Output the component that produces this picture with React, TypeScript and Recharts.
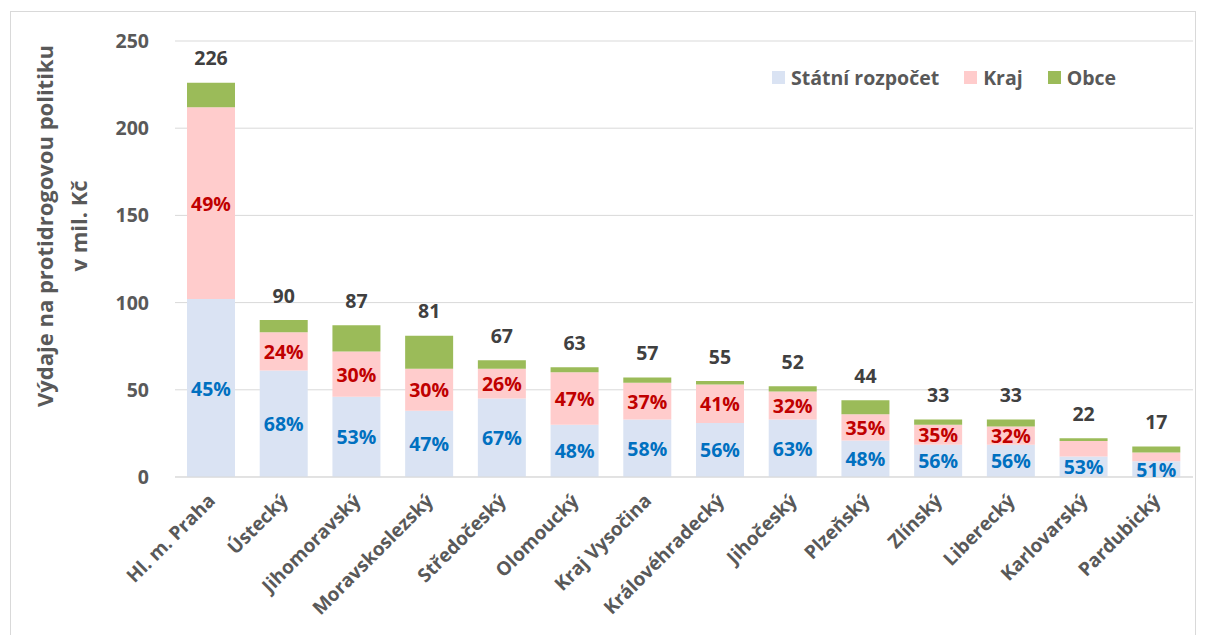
import React from "react";
import { BarChart, Bar, XAxis, YAxis, CartesianGrid, LabelList } from "recharts";

const categories = ["Hl. m. Praha", "Ústecký", "Jihomoravský", "Moravskoslezský", "Středočeský", "Olomoucký", "Kraj Vysočina", "Královéhradecký", "Jihočeský", "Plzeňský", "Zlínský", "Liberecký", "Karlovarský", "Pardubický"];
const stateBudget = [102, 61, 46, 38, 45, 30, 33, 31, 33, 21, 18.5, 18.5, 11.7, 9];
const regionBudget = [110, 22, 26, 24, 17, 30, 21, 22, 16, 15, 11.5, 10.5, 9, 5];
const municipalBudget = [14, 7, 15, 19, 5, 3, 3, 2, 3, 8, 3, 4, 1.5, 3.5];
const totals = [226, 90, 87, 81, 67, 63, 57, 55, 52, 44, 33, 33, 22, 17];
const statePct = [45, 68, 53, 47, 67, 48, 58, 56, 63, 48, 56, 56, 53, 51];
const regionPct: (number | null)[] = [49, 24, 30, 30, 26, 47, 37, 41, 32, 35, 35, 32, null, null];
const yTicks = [0, 50, 100, 150, 200, 250];
const legendItems = ["Státní rozpočet", "Kraj", "Obce"];

const data = categories.map((c, i) => ({
  name: c,
  stat: stateBudget[i],
  kraj: regionBudget[i],
  obce: municipalBudget[i],
  total: totals[i],
}));

const FONT = "'Open Sans', 'Noto Sans', sans-serif";
const C_STATE = "#DAE3F3";
const C_KRAJ = "#FFCCCC";
const C_OBCE = "#9BBB59";
const legendColors = [C_STATE, C_KRAJ, C_OBCE];

const pctLabel = (arr: (number | null)[], color: string) => (props: any) => {
  const { x, y, width, height, index } = props;
  const v = arr[index];
  if (v == null) return null;
  return (
    <text x={Number(x) + Number(width) / 2} y={Number(y) + Number(height) / 2} textAnchor="middle" dominantBaseline="central" fill={color} fontFamily={FONT} fontWeight={700} fontSize={19.5}>
      {v}%
    </text>
  );
};

const totalLabel = (props: any) => {
  const { x, y, width, index } = props;
  return (
    <text x={Number(x) + Number(width) / 2} y={Number(y) - 25} textAnchor="middle" dominantBaseline="central" fill="#404040" fontFamily={FONT} fontWeight={700} fontSize={19.5}>
      {totals[index]}
    </text>
  );
};

const XTick = (props: any) => {
  const { x, y, payload } = props;
  return (
    <g transform={`translate(${x + 5},${y + 17})`}>
      <text x={0} y={0} textAnchor="end" transform="rotate(-45)" fill="#595959" fontFamily={FONT} fontWeight={700} fontSize={19}>
        {payload.value}
      </text>
    </g>
  );
};

export default function App() {
  return (
    <div style={{ position: "absolute", left: 0, top: 0, width: 1206, height: 635, background: "#fff", overflow: "hidden" }}>
      <div style={{ position: "absolute", left: 10, top: 11, width: 1186, height: 640, border: "1px solid #D9D9D9", boxSizing: "border-box" }} />
      <div style={{ position: "absolute", left: 0, top: 0 }}>
        <BarChart width={1206} height={635} data={data} margin={{ top: 41, right: 13, left: 0, bottom: 8 }} barSize={48}>
          <CartesianGrid vertical={false} stroke="#D9D9D9" />
          <XAxis dataKey="name" interval={0} height={150} tickLine={false} axisLine={{ stroke: "#D9D9D9" }} tick={<XTick />} />
          <YAxis width={175} domain={[0, 250]} ticks={yTicks} tickLine={false} axisLine={false} tickMargin={20} tick={{ fill: "#595959", fontFamily: FONT, fontWeight: 700, fontSize: 19.5 }} />
          <Bar dataKey="stat" stackId="a" fill={C_STATE} isAnimationActive={false}>
            <LabelList dataKey="stat" content={pctLabel(statePct, "#0070C0")} />
          </Bar>
          <Bar dataKey="kraj" stackId="a" fill={C_KRAJ} isAnimationActive={false}>
            <LabelList dataKey="kraj" content={pctLabel(regionPct, "#C00000")} />
          </Bar>
          <Bar dataKey="obce" stackId="a" fill={C_OBCE} isAnimationActive={false}>
            <LabelList dataKey="total" content={totalLabel} />
          </Bar>
        </BarChart>
      </div>
      <div style={{ position: "absolute", left: 772, top: 64, display: "flex", alignItems: "center", fontFamily: FONT, fontWeight: 700, fontSize: 19.5, color: "#595959", whiteSpace: "nowrap" }}>
        {legendItems.map((label, i) => (
          <div key={label} style={{ display: "flex", alignItems: "center", marginRight: 25 }}>
            <span style={{ display: "inline-block", width: 13, height: 13, background: legendColors[i], marginRight: 6 }} />
            <span>{label}</span>
          </div>
        ))}
      </div>
      <svg style={{ position: "absolute", left: 0, top: 0, pointerEvents: "none" }} width={120} height={635}>
        <text transform="translate(53,226) rotate(-90)" textAnchor="middle" fill="#595959" fontFamily={FONT} fontWeight={700} fontSize={22}>
          Výdaje na protidrogovou politiku
        </text>
        <text transform="translate(87,226) rotate(-90)" textAnchor="middle" fill="#595959" fontFamily={FONT} fontWeight={700} fontSize={22}>
          v mil. Kč
        </text>
      </svg>
    </div>
  );
}
